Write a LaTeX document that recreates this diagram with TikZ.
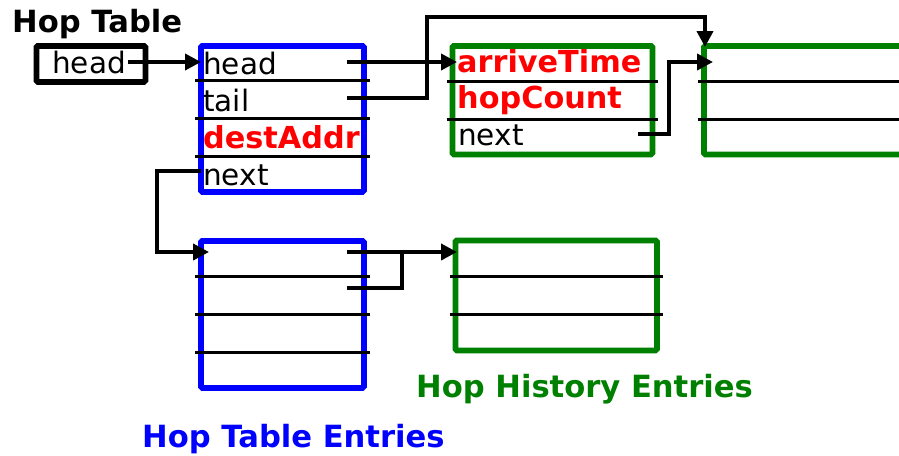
\documentclass[tikz,border=0pt]{standalone}
\usepackage{fontspec}
\setmainfont{DejaVu Sans}
\usetikzlibrary{arrows.meta,calc}
\definecolor{histgreen}{RGB}{0,128,0}
\begin{document}
\begin{tikzpicture}[x=1pt,y=-1pt,
  field/.style={font=\fontsize{29.5}{30}\selectfont, anchor=base west, inner sep=0pt},
  keyfield/.style={font=\fontsize{30.3}{31}\selectfont\bfseries, text=red, anchor=base west, inner sep=0pt},
  caption/.style={font=\fontsize{30.6}{32}\selectfont\bfseries, anchor=base west, inner sep=0pt},
  framebox/.style={line width=5.8pt, rounded corners=1.5pt, inner sep=0pt, anchor=north west},
  tablebox/.style={framebox, draw=blue, minimum width=163pt, minimum height=146pt},
  histbox/.style={framebox, draw=histgreen, minimum width=200pt, minimum height=108.5pt},
  divider/.style={line width=3pt},
  link/.style={line width=3.8pt, miter limit=10},
  ptr/.style={link, -{Triangle[length=16pt 0,width=16pt 0]}}
]
\useasboundingbox (0,0) rectangle (899,455);

% ---- boxes ----
\node[framebox, draw=black, minimum width=109pt, minimum height=36pt] (hdr) at (33.5,43) {};
\node[tablebox] (e1) at (198,43) {};
\node[tablebox, minimum height=147pt] (e2) at (198,238) {};
\node[histbox] (h1) at (449.5,43) {};
\node[histbox, minimum width=215pt] (h2) at (701,43) {};
\node[histbox, minimum width=201.5pt, minimum height=110pt] (h3) at (452.5,237.5) {};

% ---- row dividers ----
\foreach \b in {e1,e2}
  \foreach \f in {0.25,0.5,0.75}
    \draw[divider] ($(\b.north west)!\f!(\b.south west)+(-2.8,0)$) -- ($(\b.north east)!\f!(\b.south east)+(2.8,0)$);
\foreach \b in {h1,h2,h3}
  \foreach \f in {0.3333,0.6667}
    \draw[divider] ($(\b.north west)!\f!(\b.south west)+(-2.8,0)$) -- ($(\b.north east)!\f!(\b.south east)+(2.8,0)$);

% ---- texts ----
\node[caption] (title) at (12,32) {Hop Table};
\node[field] (hdrhead) at (52,73) {head};
\node[field] (e1head) at (203,74) {head};
\node[field] (e1tail) at (203,111) {tail};
\node[keyfield] (e1dest) at (203,148) {destAddr};
\node[field] (e1next) at (203,185) {next};
\node[keyfield] (h1time) at (457,72) {arriveTime};
\node[keyfield] (h1count) at (457,108) {hopCount};
\node[field] (h1next) at (458,145) {next};
\node[caption, text=histgreen] (histlabel) at (416,397) {Hop History Entries};
\node[caption, text=blue] (tablelabel) at (142,447) {Hop Table Entries};

% ---- pointer ends ----
\coordinate (hdrp) at (128,62);
\coordinate (e1in) at (201,62);
\coordinate (e1headp) at (347,62);
\coordinate (h1in) at (457,62);
\coordinate (e1tailp) at (347,98);
\coordinate (h2top) at (705,47);
\coordinate (h1nextp) at (638,134);
\coordinate (h2in) at (713,62);
\coordinate (e1nextp) at (201,171);
\coordinate (e2in) at (209,252);
\coordinate (e2headp) at (347,252);
\coordinate (h3in) at (457,252);
\coordinate (e2tailp) at (347,288);
\coordinate (e2join) at (402,252);

% ---- pointers ----
\draw[ptr] (hdrp) -- (e1in);
\draw[ptr] (e1headp) -- (h1in);
\draw[ptr] (e1tailp) -- (427,98) -- (427,17) -- (h2top |- 0,17) -- (h2top);
\draw[ptr] (h1nextp) -- (669,134) -- (669,62) -- (h2in);
\draw[ptr] (e1nextp) -- (157,171) -- (157,252) -- (e2in);
\draw[ptr] (e2headp) -- (h3in);
\draw[link] (e2tailp) -- (e2join |- e2tailp) -- (e2join);
\end{tikzpicture}
\end{document}
